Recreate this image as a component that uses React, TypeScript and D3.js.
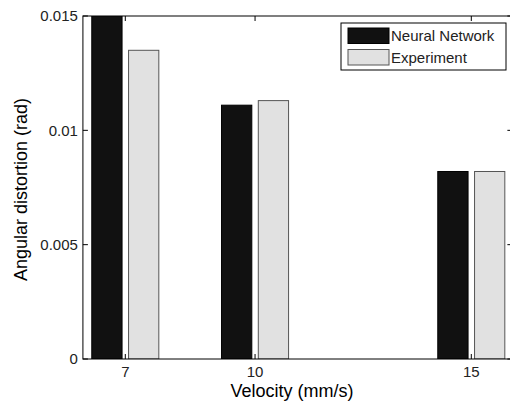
import React from "react";
import * as d3 from "d3";

const categories = [7, 10, 15];
const seriesNames = ["Neural Network", "Experiment"];
const neuralNetwork = [0.0153, 0.0111, 0.0082];
const experiment = [0.0135, 0.0113, 0.0082];
const yTicks = [0, 0.005, 0.01, 0.015];
const yTickLabels = ["0", "0.005", "0.01", "0.015"];
const xTicks = [7, 10, 15];

const W = 510;
const H = 405;
const margin = { left: 82, top: 16, bottom: 359 };
const FONT = "'Liberation Sans', Arial, sans-serif";

export default function App() {
  const x = d3.scaleLinear().domain([7, 15]).range([125.3, 471.3]);
  const xLeft = x(6.02);
  const xRight = x(15.95);
  const y = d3.scaleLinear().domain([0, 0.015]).range([margin.bottom, margin.top]);
  const unit = x(8) - x(7);
  const barW = unit * 0.7;
  const offset = unit * 0.425;
  const series = [
    { name: seriesNames[0], values: neuralNetwork, fill: "#111111", stroke: "#000000", dx: -offset },
    { name: seriesNames[1], values: experiment, fill: "#e1e1e1", stroke: "#555555", dx: offset },
  ];
  const tickLen = 5;
  return (
    <svg width={W} height={H} style={{ position: "absolute", left: 0, top: 0, background: "#fff" }}>
      <defs>
        <clipPath id="plotClip">
          <rect x={xLeft} y={margin.top} width={xRight - xLeft} height={margin.bottom - margin.top} />
        </clipPath>
      </defs>
      <rect x={0} y={0} width={W} height={H} fill="#fff" />
      <g clipPath="url(#plotClip)">
        {series.map((s) =>
          s.values.map((v, i) => (
            <rect
              key={s.name + i}
              x={x(categories[i]) + s.dx - barW / 2}
              y={y(v)}
              width={barW}
              height={y(0) - y(v)}
              fill={s.fill}
              stroke={s.stroke}
              strokeWidth={1}
            />
          ))
        )}
      </g>
      {/* axes box */}
      <rect x={xLeft} y={margin.top} width={xRight - xLeft} height={margin.bottom - margin.top} fill="none" stroke="#000" strokeWidth={1} />
      {/* y ticks */}
      {yTicks.map((t, i) => (
        <g key={"y" + i}>
          <line x1={xLeft} x2={xLeft + tickLen} y1={y(t)} y2={y(t)} stroke="#000" />
          <line x1={xRight} x2={xRight - tickLen} y1={y(t)} y2={y(t)} stroke="#000" />
          <text x={xLeft - 5} y={y(t)} dy="0.36em" textAnchor="end" fontSize={15} fontFamily={FONT} fill="#222">
            {yTickLabels[i]}
          </text>
        </g>
      ))}
      {/* x ticks */}
      {xTicks.map((t, i) => (
        <g key={"x" + i}>
          <line x1={x(t)} x2={x(t)} y1={margin.bottom} y2={margin.bottom - tickLen} stroke="#000" />
          <line x1={x(t)} x2={x(t)} y1={margin.top} y2={margin.top + tickLen} stroke="#000" />
          <text x={x(t)} y={margin.bottom + 18} textAnchor="middle" fontSize={15} fontFamily={FONT} fill="#222">
            {String(t)}
          </text>
        </g>
      ))}
      {/* axis titles */}
      <text x={292} y={397} textAnchor="middle" fontSize={18} fontFamily={FONT} fill="#000">
        Velocity (mm/s)
      </text>
      <text
        transform={`translate(27, ${189.5}) rotate(-90)`}
        textAnchor="middle"
        fontSize={18}
        fontFamily={FONT}
        fill="#000"
      >
        Angular distortion (rad)
      </text>
      {/* legend */}
      <g>
        <rect x={341} y={23} width={165} height={47} fill="#fff" stroke="#000" strokeWidth={1} />
        {series.map((s, i) => (
          <g key={"leg" + i}>
            <rect x={348} y={28 + i * 21.5} width={41} height={15.5} fill={s.fill} stroke={s.stroke} />
            <text x={391} y={36 + i * 21.5} dy="0.36em" fontSize={15} fontFamily={FONT} fill="#222">
              {s.name}
            </text>
          </g>
        ))}
      </g>
    </svg>
  );
}
